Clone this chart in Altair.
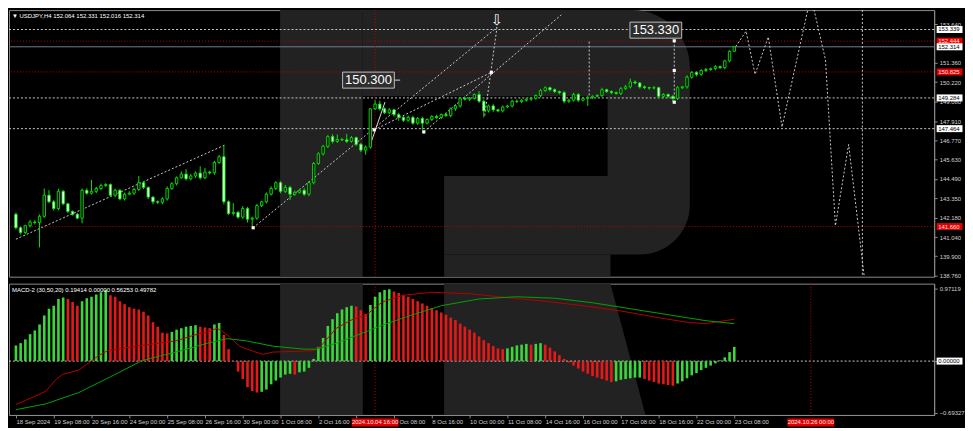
import json
import altair as alt
import pandas as pd

# ---------------- data ----------------
first_open = 142.39
closes = [
    141.59, 141.31, 141.71, 141.93, 141.90, 142.27, 143.52, 143.13, 142.73, 143.75,
    143.01, 142.56, 142.39, 142.16, 143.81, 143.64, 143.75, 143.92, 144.09, 144.15,
    143.52, 143.81, 143.30, 143.58, 143.64, 143.86, 144.26, 143.98, 143.41, 143.13,
    143.10, 143.30, 143.92, 144.20, 144.55, 144.77, 144.49, 144.66, 144.83, 144.55,
    144.89, 144.85, 145.46, 145.80, 143.13, 142.44, 142.50, 142.22, 142.73, 142.10,
    142.16, 142.90, 143.13, 143.58, 143.92, 144.26, 143.75, 143.98, 143.58, 143.69,
    143.81, 143.58, 144.26, 145.40, 145.97, 146.42, 146.99, 146.71, 146.82, 146.80,
    146.71, 146.93, 146.54, 146.19, 146.37, 148.64, 148.92, 148.64, 148.41, 148.58,
    148.30, 148.13, 147.96, 148.13, 147.79, 148.07, 147.79, 148.01, 148.18, 148.13,
    148.30, 148.24, 148.64, 148.81, 149.26, 149.21, 149.26, 149.49, 149.09, 148.52,
    148.81, 148.58, 148.52, 148.75, 148.81, 149.09, 149.07, 149.15, 149.21, 149.26,
    149.43, 149.72, 149.89, 149.77, 149.66, 149.60, 149.09, 149.15, 149.49, 149.15,
    149.26, 149.32, 149.38, 149.43, 149.77, 149.66, 149.60, 149.55, 149.83, 149.94,
    150.23, 150.17, 149.94, 149.89, 149.87, 149.89, 149.38, 149.49, 149.38, 149.26,
    149.89, 149.94, 150.51, 150.80, 150.68, 150.91, 150.97, 151.02, 151.14, 151.08,
    151.48, 152.05, 152.31]
upper_wick = [
    0.10, 0.08, 0.06, 0.12, 0.10, 0.10, 0.40, 0.30, 0.10, 0.15,
    0.08, 0.06, 0.05, 0.08, 0.10, 0.12, 0.68, 0.10, 0.12, 0.08,
    0.06, 0.10, 0.08, 0.10, 0.12, 0.10, 0.40, 0.10, 0.06, 0.05,
    0.08, 0.10, 0.12, 0.10, 0.08, 0.15, 0.30, 0.12, 0.10, 0.40,
    0.25, 0.08, 0.10, 0.10, 0.68, 0.08, 0.55, 0.10, 0.15, 0.10,
    0.08, 0.10, 0.06, 0.10, 0.12, 0.08, 0.10, 0.15, 0.10, 0.10,
    0.08, 0.12, 0.10, 0.08, 0.10, 0.08, 0.10, 0.15, 0.30, 0.10,
    0.35, 0.10, 0.06, 0.08, 0.10, 0.05, 0.23, 0.20, 0.08, 0.10,
    0.06, 0.10, 0.08, 0.12, 0.10, 0.08, 0.10, 0.06, 0.08, 0.10,
    0.06, 0.10, 0.08, 0.10, 0.06, 0.10, 0.08, 0.06, 0.20, 0.10,
    0.08, 0.10, 0.06, 0.08, 0.06, 0.08, 0.10, 0.06, 0.06, 0.08,
    0.06, 0.10, 0.08, 0.06, 0.08, 0.06, 0.10, 0.08, 0.10, 0.08,
    0.06, 0.10, 0.06, 0.08, 0.12, 0.06, 0.08, 0.06, 0.10, 0.12,
    0.20, 0.10, 0.06, 0.08, 0.06, 0.10, 0.06, 0.08, 0.06, 0.08,
    0.10, 0.06, 0.12, 0.08, 0.06, 0.08, 0.10, 0.06, 0.08, 0.06,
    0.06, 0.05, 0.02]
lower_wick = [
    0.10, 0.12, 0.08, 0.10, 0.12, 1.47, 0.10, 0.08, 0.12, 0.10,
    0.08, 0.10, 0.08, 0.06, 0.30, 0.10, 0.08, 0.12, 0.10, 0.08,
    0.10, 0.12, 0.08, 0.10, 0.06, 0.10, 0.08, 0.10, 0.12, 0.15,
    0.10, 0.12, 0.10, 0.08, 0.10, 0.06, 0.10, 0.08, 0.12, 0.10,
    0.08, 0.10, 0.12, 0.08, 0.15, 0.10, 0.12, 0.10, 0.10, 0.20,
    0.45, 0.10, 0.08, 0.10, 0.08, 0.10, 0.12, 0.10, 0.35, 0.10,
    0.08, 0.10, 0.12, 0.10, 0.08, 0.10, 0.10, 0.12, 0.10, 0.08,
    0.10, 0.08, 0.10, 0.12, 0.28, 0.10, 0.08, 0.10, 0.08, 0.10,
    0.12, 0.20, 0.10, 0.08, 0.10, 0.10, 0.40, 0.08, 0.10, 0.08,
    0.10, 0.08, 0.10, 0.12, 0.10, 0.08, 0.10, 0.08, 0.10, 0.39,
    0.10, 0.12, 0.08, 0.10, 0.08, 0.10, 0.08, 0.10, 0.08, 0.10,
    0.08, 0.10, 0.08, 0.10, 0.08, 0.10, 0.12, 0.10, 0.08, 0.10,
    0.08, 0.45, 0.10, 0.08, 0.10, 0.08, 0.10, 0.08, 0.10, 0.08,
    0.10, 0.08, 0.10, 0.08, 0.10, 0.08, 0.12, 0.10, 0.08, 0.22,
    0.10, 0.08, 0.10, 0.08, 0.12, 0.08, 0.10, 0.08, 0.10, 0.08,
    0.10, 0.08, 0.04]

hist = [
    0.21, 0.24, 0.29, 0.36, 0.41, 0.49, 0.61, 0.70, 0.74, 0.83,
    0.85, 0.83, 0.79, 0.74, 0.80, 0.84, 0.86, 0.89, 0.92, 0.95,
    0.88, 0.86, 0.80, 0.76, 0.72, 0.70, 0.69, 0.66, 0.61, 0.52,
    0.46, 0.38, 0.37, 0.39, 0.42, 0.44, 0.46, 0.47, 0.48, 0.46,
    0.45, 0.44, 0.49, 0.51, 0.35, 0.16, -0.01, -0.14, -0.24, -0.35,
    -0.40, -0.42, -0.41, -0.38, -0.31, -0.26, -0.22, -0.18, -0.17, -0.18,
    -0.15, -0.14, -0.09, 0.03, 0.19, 0.31, 0.47, 0.56, 0.64, 0.69,
    0.72, 0.74, 0.73, 0.68, 0.63, 0.75, 0.86, 0.92, 0.95, 0.96,
    0.93, 0.91, 0.88, 0.86, 0.83, 0.80, 0.77, 0.74, 0.71, 0.68,
    0.65, 0.62, 0.58, 0.55, 0.50, 0.46, 0.42, 0.38, 0.33, 0.28,
    0.24, 0.20, 0.17, 0.16, 0.17, 0.19, 0.21, 0.22, 0.23, 0.22,
    0.23, 0.24, 0.22, 0.18, 0.13, 0.08, 0.03, -0.02, -0.06, -0.10,
    -0.14, -0.17, -0.20, -0.22, -0.24, -0.26, -0.28, -0.27, -0.25, -0.24,
    -0.23, -0.22, -0.22, -0.24, -0.26, -0.28, -0.30, -0.31, -0.32, -0.33,
    -0.30, -0.27, -0.23, -0.19, -0.16, -0.12, -0.09, -0.06, -0.03, 0.01,
    0.05, 0.12, 0.19]

red_line_bar = [0, 3.7, 6.4, 8.4, 9.8, 13.3, 15.3, 17.4, 19.4, 25.5, 30.3, 33.8, 37.9,
                40.6, 42.6, 44.7, 47.3, 50.2, 52.3, 54.3, 63.1, 64.5, 67.8, 71.3, 74,
                77.5, 82, 88, 96, 104, 112, 120, 128, 136, 142, 146, 152]
red_line_val = [-0.58, -0.48, -0.40, -0.25, -0.18, -0.12, -0.03, 0.07, 0.14, 0.20, 0.24,
                0.27, 0.35, 0.39, 0.44, 0.35, 0.20, 0.13, 0.09, 0.12, 0.14, 0.20, 0.44,
                0.56, 0.61, 0.79, 0.88, 0.92, 0.90, 0.85, 0.80, 0.74, 0.67, 0.58, 0.52,
                0.50, 0.56]
green_line_bar = [0, 6.4, 13.3, 20, 26.8, 33.8, 40.6, 44.7, 48.8, 54.3, 61, 63.7, 67.8,
                  74.8, 77.5, 84, 90, 98, 106, 114, 122, 130, 138, 146, 152]
green_line_val = [-0.65, -0.57, -0.42, -0.21, 0.01, 0.12, 0.24, 0.30, 0.27, 0.20, 0.16,
                  0.16, 0.24, 0.41, 0.48, 0.62, 0.74, 0.83, 0.86, 0.84, 0.78, 0.70, 0.62,
                  0.54, 0.50]

tick_bars = list(range(0, 153, 8))
tick_labels = ["18 Sep 2024", "19 Sep 08:00", "20 Sep 16:00", "24 Sep 00:00", "25 Sep 08:00",
               "26 Sep 16:00", "30 Sep 00:00", "1 Oct 08:00", "2 Oct 16:00", "",
               "7 Oct 08:00", "8 Oct 16:00", "10 Oct 00:00", "11 Oct 08:00", "14 Oct 16:00",
               "16 Oct 00:00", "17 Oct 08:00", "18 Oct 16:00", "22 Oct 00:00", "23 Oct 08:00"]
price_ticks = [138.760, 139.900, 141.040, 142.180, 143.350, 144.490, 145.630, 146.770,
               147.910, 149.080, 150.220, 151.360, 153.640]
macd_ticks = [0.97119, 0.0, -0.69327]

levels_white = [153.339, 149.284, 147.464]
levels_red = [152.65, 150.825, 141.660]
level_current = 152.314
box_prices = [153.339, 152.65, 152.314, 150.825, 149.284, 147.464, 141.660]
box_texts = ["153.339", "152.444", "152.314", "150.825", "149.284", "147.464", "141.660"]
box_kinds = ["white", "red", "white", "red", "white", "white", "red"]

red_vline_bars = [76]
white_vline_bars = [179.1]
date_box_bars = [76, 168.2]
date_box_texts = ["2024.10.04 16:00", "2024.10.26 00:00"]

trend_lines = [
    [(0.0, 140.91), (44.1, 146.48)],
    [(50.2, 141.59), (101.8, 153.47)],
    [(86.3, 147.27), (115.4, 154.21)],
    [(75.8, 147.39), (100.6, 150.80)],
    [(99.2, 148.24), (101.8, 153.47)],
    [(121.3, 152.62), (121.3, 149.38)],
    [(139.3, 152.67), (139.3, 149.03)],
    [(152.3, 152.33), (154.5, 153.24), (156.4, 150.68), (159.2, 152.90), (162.1, 147.56),
     (168.2, 155.34), (171.3, 151.54), (173.4, 141.71), (176.2, 146.53), (179.5, 138.69)],
]
solid_line = [(75.0, 146.53), (78.1, 149.04)]
tail_line = [(80.0, 150.34), (81.3, 150.34)]
markers = [(50.2, 141.59), (75.8, 147.39), (86.3, 147.27), (100.6, 150.80),
           (139.3, 152.67), (139.3, 150.91), (139.3, 149.03)]
big_labels = [(74.6, 150.34, "150.300"), (135.4, 153.30, "153.330")]
arrow_pos = (101.8, 153.90)

# watermark "R" (bar / price / macd units)
wm_stem = (55.9, 73.4)
wm_bowl = (73.4, 142.6, 140.0, 154.49)
wm_holes = [(73.4, 125.2, 144.66, 149.38), (73.4, 90.6, 138.69, 144.66)]
wm_leg_main = (90.6, 125.8, 138.69, 140.0)
wm_leg_macd_v = [1.035, -0.72]
wm_leg_macd_x1 = [90.6, 90.6]
wm_leg_macd_x2 = [125.8, 133.2]

header = "\u25bc USDJPY,H4  152.064 152.331 152.016 152.314"
macd_title = "MACD-2 (30,50,20) 0.19414 0.00000 0.56253 0.49782"

# ---------------- layout / style ----------------
W, H1, H2 = 930, 268, 132
XDOM = [-0.41, 193.24]
PDOM = [138.69, 154.49]
MDOM = [-0.72, 1.035]
FONT = "Liberation Sans"
GREEN = "#00e600"
GRAYWM = "#222222"
AXC = "#8a8a8a"
LBL = "#d0d0d0"

xs = alt.Scale(domain=XDOM, nice=False, zero=False)
ys = alt.Scale(domain=PDOM, nice=False, zero=False)
ms = alt.Scale(domain=MDOM, nice=False, zero=False)

yaxis_main = alt.Axis(orient="right", values=price_ticks, format=".3f", labelFontSize=6,
                      labelFont=FONT, labelColor=LBL, tickColor=AXC, tickSize=3,
                      domainColor=AXC, labelPadding=2, grid=False, title=None,
                      labelOverlap=False, labelFlush=False, zindex=0)
label_expr = json.dumps(tick_labels) + "[round(datum.value / 8)]"
xaxis_macd = alt.Axis(orient="bottom", values=tick_bars, labelExpr=label_expr, labelAlign="left",
                      labelFontSize=6, labelFont=FONT, labelColor=LBL, tickColor=AXC,
                      tickSize=3, domainColor=AXC, labelPadding=1, grid=False, title=None,
                      labelOverlap=False, labelFlush=False, zindex=0)
yaxis_macd = alt.Axis(orient="right", values=macd_ticks, format=".5f", labelFontSize=6,
                      labelFont=FONT, labelColor=LBL, tickColor=AXC, tickSize=3,
                      domainColor=AXC, labelPadding=2, grid=False, title=None,
                      labelOverlap=False, labelFlush=False, zindex=0)

PANEL = {"main": (None, yaxis_main, ys), "macd": (xaxis_macd, yaxis_macd, ms)}


def X(panel, f="bar"):
    return alt.X(f + ":Q", scale=xs, axis=PANEL[panel][0])


def Y(panel, f):
    return alt.Y(f + ":Q", scale=PANEL[panel][2], axis=PANEL[panel][1])


def rects(panel, df, color, **kw):
    return alt.Chart(df).mark_rect(color=color, clip=True, **kw).encode(
        x=X(panel, "x1"), x2="x2:Q", y=Y(panel, "y1"), y2="y2:Q")


def rect_df(rows):
    return pd.DataFrame(rows, columns=["x1", "x2", "y1", "y2"])


# ---------------- main panel ----------------
opens = [first_open] + closes[:-1]
cdf = pd.DataFrame({
    "bar": list(range(len(closes))),
    "open": opens,
    "close": closes,
    "high": [max(o, c) + u for o, c, u in zip(opens, closes, upper_wick)],
    "low": [min(o, c) - l for o, c, l in zip(opens, closes, lower_wick)],
})
cdf["dir"] = ["up" if c >= o else "down" for o, c in zip(opens, closes)]

P = "main"
m_layers = []
m_layers.append(rects(P, rect_df([(wm_stem[0], wm_stem[1], PDOM[0], PDOM[1])]), GRAYWM))
m_layers.append(rects(P, rect_df([wm_bowl]), GRAYWM,
                      cornerRadiusTopRight=58, cornerRadiusBottomRight=50))
m_layers.append(rects(P, rect_df(wm_holes), "#000000"))
m_layers.append(rects(P, rect_df([wm_leg_main]), GRAYWM))

m_layers.append(alt.Chart(pd.DataFrame({"p": levels_white})).mark_rule(
    color="#c8c8c8", strokeDash=[2, 2], strokeWidth=1).encode(y=Y(P, "p")))
m_layers.append(alt.Chart(pd.DataFrame({"p": levels_red})).mark_rule(
    color="#c00000", strokeDash=[1, 2], strokeWidth=1).encode(y=Y(P, "p")))
m_layers.append(alt.Chart(pd.DataFrame({"p": [level_current]})).mark_rule(
    color="#6f7f8f", strokeWidth=1).encode(y=Y(P, "p")))
m_layers.append(alt.Chart(pd.DataFrame({"b": red_vline_bars})).mark_rule(
    color="#c00000", strokeDash=[1, 2], strokeWidth=1).encode(x=X(P, "b")))
m_layers.append(alt.Chart(pd.DataFrame({"b": white_vline_bars})).mark_rule(
    color="#c8c8c8", strokeDash=[2, 2], strokeWidth=1).encode(x=X(P, "b")))

tl_rows = []
for si, seg in enumerate(trend_lines):
    for oi, (b, p) in enumerate(seg):
        tl_rows.append({"seg": si, "o": oi, "bar": b, "p": p})
m_layers.append(alt.Chart(pd.DataFrame(tl_rows)).mark_line(
    color="#c8c8c8", strokeDash=[2, 2], strokeWidth=1, clip=True).encode(
    x=X(P), y=Y(P, "p"), detail="seg:N", order="o:Q"))
sl_rows = [{"seg": 0, "o": i, "bar": b, "p": p} for i, (b, p) in enumerate(solid_line)]
sl_rows += [{"seg": 1, "o": i, "bar": b, "p": p} for i, (b, p) in enumerate(tail_line)]
m_layers.append(alt.Chart(pd.DataFrame(sl_rows)).mark_line(
    color="#d8d8d8", strokeWidth=1).encode(x=X(P), y=Y(P, "p"), detail="seg:N", order="o:Q"))

m_layers.append(alt.Chart(cdf).mark_rule(color=GREEN, strokeWidth=1).encode(
    x=X(P), y=Y(P, "low"), y2="high:Q"))
m_layers.append(alt.Chart(cdf).mark_bar(size=2.4, stroke=GREEN, strokeWidth=0.9).encode(
    x=X(P), y=Y(P, "open"), y2="close:Q",
    fill=alt.Fill("dir:N", scale=alt.Scale(domain=["up", "down"], range=["#000000", "#ffffff"]),
                  legend=None)))

mk = pd.DataFrame(markers, columns=["bar", "p"])
m_layers.append(alt.Chart(mk).mark_square(size=10, color="#ffffff", opacity=1).encode(
    x=X(P), y=Y(P, "p")))

bl = pd.DataFrame(big_labels, columns=["bar", "p", "t"])
m_layers.append(alt.Chart(bl).mark_point(
    shape="M-1,-0.31H1V0.31H-1Z", size=2704, filled=True, fill="#2e2e2e",
    stroke="#bdbdbd", strokeWidth=1, opacity=1).encode(x=X(P), y=Y(P, "p")))
m_layers.append(alt.Chart(bl).mark_text(
    font=FONT, fontSize=13, color="#ffffff", align="center", baseline="middle").encode(
    x=X(P), y=Y(P, "p"), text="t:N"))
m_layers.append(alt.Chart(pd.DataFrame([{"bar": arrow_pos[0], "p": arrow_pos[1], "t": "\u21e9"}]))
                .mark_text(font="DejaVu Sans", fontSize=15, color="#ffffff", align="center",
                           baseline="middle").encode(x=X(P), y=Y(P, "p"), text="t:N"))

bx = pd.DataFrame({"p": box_prices, "t": box_texts, "k": box_kinds})
bx["fill"] = ["#ffffff" if k == "white" else "#e00000" for k in box_kinds]
bx["tc"] = ["#000000" if k == "white" else "#ffe0e0" for k in box_kinds]
m_layers.append(alt.Chart(bx).mark_point(
    shape="M-1,-0.27H1V0.27H-1Z", size=676, filled=True, opacity=1).encode(
    x=alt.value(W + 15.5), y=Y(P, "p"), color=alt.Color("fill:N", scale=None)))
m_layers.append(alt.Chart(bx).mark_text(
    font=FONT, fontSize=6, align="left", baseline="middle").encode(
    x=alt.value(W + 4), y=Y(P, "p"), text="t:N", color=alt.Color("tc:N", scale=None)))

m_layers.append(alt.Chart(pd.DataFrame({"t": [header]})).mark_text(
    font=FONT, fontSize=6, color="#ffffff", align="left", baseline="middle").encode(
    x=alt.value(3), y=alt.value(6), text="t:N"))

main = alt.layer(*m_layers).properties(width=W, height=H1)

# ---------------- MACD panel ----------------
P = "macd"
hdf = pd.DataFrame({"bar": list(range(len(hist))), "v": hist, "z": 0.0})
hdf["c"] = ["#3ad83a" if i == 0 or hist[i] >= hist[i - 1] else "#e81818"
            for i in range(len(hist))]

d_layers = []
d_layers.append(rects(P, rect_df([(wm_stem[0], wm_stem[1], MDOM[0], MDOM[1])]), GRAYWM))
leg = pd.DataFrame({"v": wm_leg_macd_v, "x1": wm_leg_macd_x1, "x2": wm_leg_macd_x2})
d_layers.append(alt.Chart(leg).mark_area(orient="horizontal", color=GRAYWM, clip=True).encode(
    y=Y(P, "v"), x=X(P, "x1"), x2="x2:Q"))
d_layers.append(alt.Chart(pd.DataFrame({"p": [0.0]})).mark_rule(
    color="#c8c8c8", strokeDash=[2, 2], strokeWidth=1).encode(y=Y(P, "p")))
d_layers.append(alt.Chart(pd.DataFrame({"b": date_box_bars})).mark_rule(
    color="#c00000", strokeDash=[1, 2], strokeWidth=1).encode(x=X(P, "b")))

d_layers.append(alt.Chart(hdf).mark_bar(size=2.6).encode(
    x=X(P), y=Y(P, "v"), y2="z:Q", color=alt.Color("c:N", scale=None)))
d_layers.append(alt.Chart(pd.DataFrame({"bar": red_line_bar, "v": red_line_val})).mark_line(
    color="#b40000", strokeWidth=1).encode(x=X(P), y=Y(P, "v")))
d_layers.append(alt.Chart(pd.DataFrame({"bar": green_line_bar, "v": green_line_val})).mark_line(
    color="#00a400", strokeWidth=1).encode(x=X(P), y=Y(P, "v")))
d_layers.append(alt.Chart(pd.DataFrame({"t": [macd_title]})).mark_text(
    font=FONT, fontSize=6, color="#ffffff", align="left", baseline="middle").encode(
    x=alt.value(3), y=alt.value(6), text="t:N"))

zb = pd.DataFrame({"p": [0.0], "t": ["0.00000"]})
d_layers.append(alt.Chart(zb).mark_point(
    shape="M-1,-0.27H1V0.27H-1Z", size=676, filled=True, color="#ffffff", opacity=1).encode(
    x=alt.value(W + 15.5), y=Y(P, "p")))
d_layers.append(alt.Chart(zb).mark_text(
    font=FONT, fontSize=6, color="#000000", align="left", baseline="middle").encode(
    x=alt.value(W + 4), y=Y(P, "p"), text="t:N"))

db = pd.DataFrame({"bar": date_box_bars, "t": date_box_texts})
d_layers.append(alt.Chart(db).mark_point(
    shape="M-1,-0.17H1V0.17H-1Z", size=2209, filled=True, color="#e00000", opacity=1).encode(
    x=X(P), y=alt.value(H2 + 7.5)))
d_layers.append(alt.Chart(db).mark_text(
    font=FONT, fontSize=6, color="#ffe8e8", align="center", baseline="middle").encode(
    x=X(P), y=alt.value(H2 + 7.5), text="t:N"))

macd = alt.layer(*d_layers).properties(width=W, height=H2)

chart = alt.vconcat(main, macd, spacing=3).properties(
    background="#000000", padding=0
).configure_view(stroke=AXC, strokeWidth=1)

chart.save("out.html", embed_options={"renderer": "svg", "actions": False})
